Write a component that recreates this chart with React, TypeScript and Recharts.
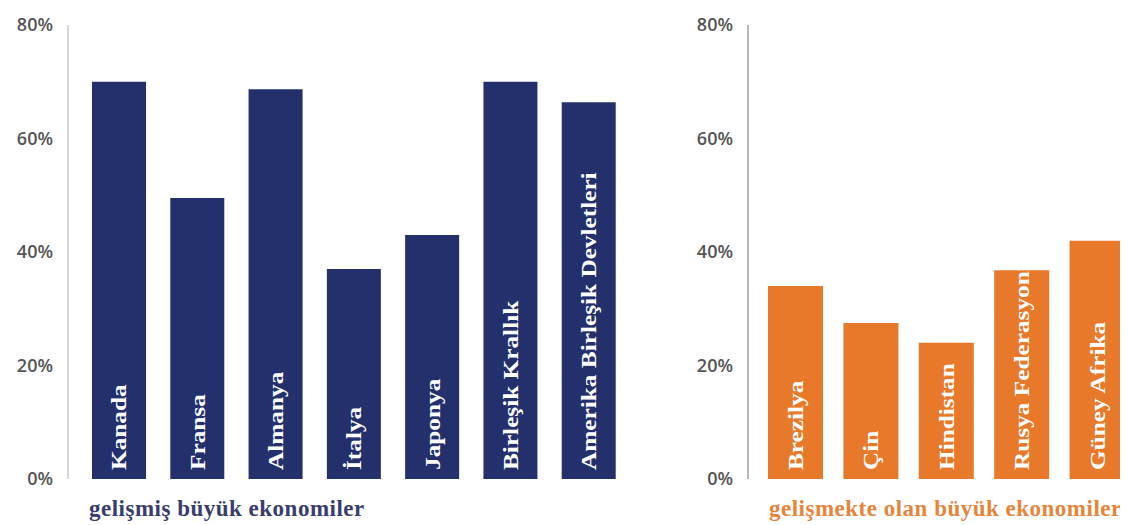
import React from 'react';
import { BarChart, Bar, XAxis, YAxis, LabelList } from 'recharts';

const developedCountries = ['Kanada', 'Fransa', 'Almanya', 'İtalya', 'Japonya', 'Birleşik Krallık', 'Amerika Birleşik Devletleri'];
const developedValues = [70, 49.5, 68.7, 37, 43, 70, 66.4];

const emergingCountries = ['Brezilya', 'Çin', 'Hindistan', 'Rusya Federasyonu', 'Güney Afrika'];
const emergingValues = [34, 27.5, 24, 36.8, 42];

const yTicks = [0, 20, 40, 60, 80];

const NAVY = '#23306b';
const ORANGE = '#e8782a';

const developedData = developedCountries.map((name, i) => ({ name, value: developedValues[i] }));
const emergingData = emergingCountries.map((name, i) => ({ name, value: emergingValues[i] }));

// country name written upward inside the bar, starting near its foot
const BarName = (props: any) => {
  const { x, y, width, height, value } = props;
  const cx = x + width / 2;
  const by = y + height - 9;
  return (
    <text
      transform={`translate(${cx},${by}) rotate(-90) scale(1.15,1)`}
      x={0}
      y={0}
      fill="#ffffff"
      fontFamily="'Liberation Serif', 'Times New Roman', serif"
      fontWeight={700}
      fontSize={22}
      textAnchor="start"
      dominantBaseline="central"
    >
      {value}
    </text>
  );
};

const groupTitle = (text: string, color: string) => (props: any) => {
  const { viewBox } = props;
  return (
    <text
      x={viewBox.x + 21}
      y={viewBox.y + 29}
      fill={color}
      fontFamily="'Liberation Serif', 'Times New Roman', serif"
      fontWeight={700}
      fontSize={23}
      letterSpacing={0.5}
      textAnchor="start"
      dominantBaseline="central"
    >
      {text}
    </text>
  );
};

const tickStyle = { fill: '#555555', fontSize: 18, fontWeight: 600, fontFamily: "'Open Sans', sans-serif" };

interface PanelProps {
  data: { name: string; value: number }[];
  color: string;
  axisColor: string;
  title: string;
  titleColor: string;
  width: number;
  barSize: number;
  padLeft: number;
  marginRight: number;
}

function Panel({ data, color, axisColor, title, titleColor, width, barSize, padLeft, marginRight }: PanelProps) {
  return (
    <BarChart width={width} height={525} data={data} margin={{ top: 25, right: marginRight, left: 0, bottom: 0 }}>
      <XAxis
        dataKey="name"
        tick={false}
        axisLine={false}
        tickLine={false}
        height={46}
        padding={{ left: padLeft, right: 0 }}
        label={{ content: groupTitle(title, titleColor) }}
      />
      <YAxis
        width={68}
        domain={[0, 80]}
        ticks={yTicks}
        tickFormatter={(v) => `${v}%`}
        tick={tickStyle}
        tickLine={false}
        tickSize={0}
        tickMargin={15}
        axisLine={{ stroke: axisColor, strokeWidth: 1.5 }}
      />
      <Bar dataKey="value" fill={color} barSize={barSize} isAnimationActive={false}>
        <LabelList dataKey="name" content={BarName} />
      </Bar>
    </BarChart>
  );
}

export default function App() {
  return (
    <div style={{ position: 'relative', width: 1128, height: 525, overflow: 'hidden', margin: '-8px 0 0 -8px', background: '#fff' }}>
      <div style={{ position: 'absolute', left: 0, top: 0 }}>
        <Panel
          data={developedData}
          color={NAVY}
          axisColor="#c9c9c9"
          title="gelişmiş büyük ekonomiler"
          titleColor="#383d6e"
          width={640}
          barSize={54}
          padLeft={12}
          marginRight={12}
        />
      </div>
      <div style={{ position: 'absolute', left: 680, top: 0 }}>
        <Panel
          data={emergingData}
          color={ORANGE}
          axisColor="#a0a0a0"
          title="gelişmekte olan büyük ekonomiler"
          titleColor="#e8843a"
          width={460}
          barSize={55}
          padLeft={10}
          marginRight={5}
        />
      </div>
    </div>
  );
}
